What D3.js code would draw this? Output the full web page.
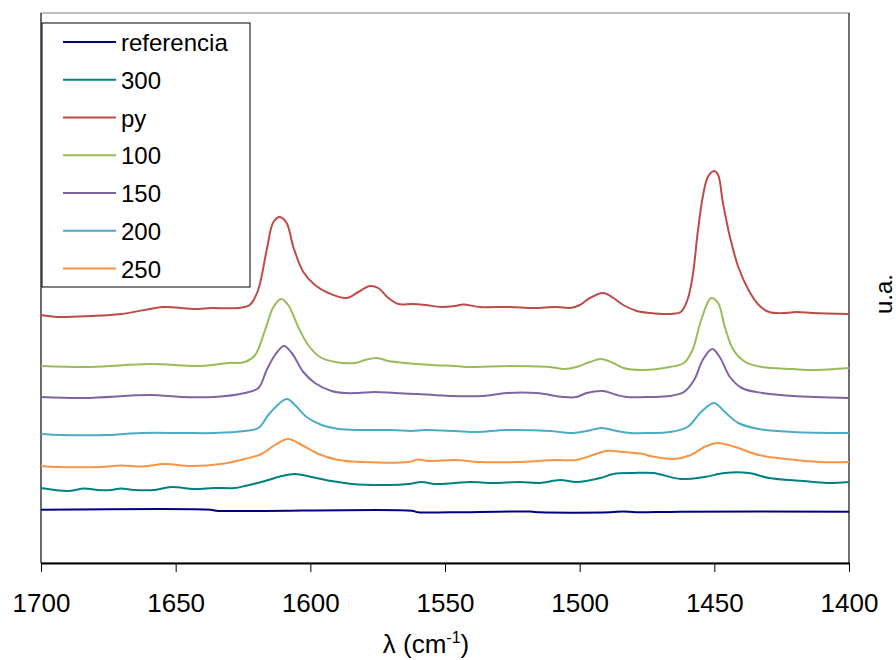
<!DOCTYPE html>
<html>
<head>
<meta charset="utf-8">
<script src="https://cdn.jsdelivr.net/npm/d3@7/dist/d3.min.js"></script>
<style>
  html, body { margin: 0; padding: 0; background: #fff; }
  svg { display: block; font-family: "Liberation Sans", Arial, sans-serif; }
</style>
</head>
<body>
<svg id="chart" width="896" height="660"></svg>
<script>
// IR spectra of adsorbed pyridine, absorbance (arbitrary units) vs wavenumber
const seriesNames = ["referencia", "300", "py", "100", "150", "200", "250"];
const seriesColors = ["#000080", "#008080", "#BE4B48", "#9BBB59", "#8064A2", "#4BACC6", "#F79646"];
const xTicks = [1700, 1650, 1600, 1550, 1500, 1450, 1400];

const refWn  = [1700, 1636.9, 1635.0, 1562.4, 1559.9, 1548.1, 1518.4, 1514.7, 1488.7, 1483.9, 1479.1, 1462.7, 1400];
const refAbs = [0.533, 0.533, 0.523, 0.523, 0.507, 0.507, 0.515, 0.507, 0.507, 0.515, 0.507, 0.513, 0.513];

const s300Wn  = [1700, 1690.1, 1683.9, 1678.9, 1674.0, 1670.3, 1665.4, 1657.9, 1651.7, 1643.1, 1635.7, 1628.2, 1624.3, 1616.8, 1610.6, 1605.7, 1599.5, 1592.1, 1584.6, 1571.0, 1563.6, 1558.6, 1553.7, 1546.3, 1540.7, 1532.1, 1522.2, 1514.7, 1507.3, 1501.1, 1492.4, 1487.5, 1480.1, 1472.7, 1462.5, 1453.7, 1446.1, 1437.3, 1429.7, 1417.1, 1408.2, 1400];
const s300Abs = [0.75, 0.72, 0.745, 0.73, 0.73, 0.745, 0.73, 0.73, 0.76, 0.74, 0.75, 0.75, 0.77, 0.82, 0.87, 0.89, 0.86, 0.82, 0.79, 0.78, 0.79, 0.81, 0.79, 0.80, 0.81, 0.80, 0.81, 0.80, 0.83, 0.81, 0.85, 0.89, 0.90, 0.90, 0.84, 0.86, 0.90, 0.90, 0.85, 0.82, 0.80, 0.81];

const pyWn  = [1700, 1693.8, 1681.4, 1670.3, 1654.3, 1648.0, 1641.7, 1636.9, 1626.9, 1622.5, 1619.5, 1616.2, 1613.7, 1611.3, 1608.8, 1606.3, 1602.6, 1598.3, 1593.3, 1586.5, 1582.2, 1577.8, 1574.8, 1571.0, 1567.3, 1562.4, 1557.4, 1551.2, 1546.3, 1543.2, 1537.0, 1525.9, 1517.2, 1508.5, 1503.6, 1499.9, 1496.2, 1491.2, 1487.5, 1483.8, 1478.8, 1473.9, 1467.6, 1462.5, 1460.0, 1458.1, 1456.2, 1454.3, 1452.4, 1450.1, 1448.6, 1446.8, 1444.2, 1441.1, 1437.3, 1433.5, 1429.7, 1423.4, 1419.7, 1413.4, 1400];
const pyAbs = [2.48, 2.46, 2.47, 2.49, 2.56, 2.55, 2.54, 2.55, 2.55, 2.58, 2.72, 3.13, 3.41, 3.46, 3.40, 3.16, 2.91, 2.78, 2.70, 2.65, 2.71, 2.77, 2.75, 2.65, 2.59, 2.59, 2.58, 2.56, 2.57, 2.585, 2.56, 2.56, 2.55, 2.56, 2.55, 2.58, 2.65, 2.70, 2.65, 2.58, 2.52, 2.50, 2.49, 2.51, 2.63, 2.86, 3.30, 3.66, 3.86, 3.92, 3.88, 3.60, 3.26, 2.96, 2.73, 2.58, 2.51, 2.50, 2.51, 2.50, 2.49];

const s100Wn  = [1700, 1681.4, 1659.5, 1641.0, 1630.6, 1624.3, 1620.5, 1616.8, 1613.7, 1610.9, 1608.2, 1604.5, 1600.8, 1596.4, 1590.8, 1583.4, 1579.7, 1575.4, 1571.0, 1564.9, 1554.9, 1546.3, 1540.7, 1525.9, 1511.0, 1506.1, 1501.1, 1496.2, 1492.2, 1487.5, 1483.8, 1476.4, 1466.5, 1461.3, 1458.1, 1454.9, 1451.2, 1448.6, 1446.1, 1442.9, 1438.5, 1432.2, 1420.8, 1413.4, 1400];
const s100Abs = [1.97, 1.96, 1.99, 1.97, 2.00, 2.01, 2.08, 2.33, 2.56, 2.64, 2.58, 2.36, 2.18, 2.06, 2.01, 2.00, 2.03, 2.05, 2.02, 2.00, 1.98, 1.97, 1.96, 1.97, 1.96, 1.94, 1.96, 2.01, 2.04, 2.00, 1.95, 1.93, 1.96, 2.00, 2.13, 2.43, 2.65, 2.60, 2.36, 2.13, 2.01, 1.96, 1.94, 1.93, 1.95];

const s150Wn  = [1700, 1683.9, 1659.2, 1648.0, 1635.8, 1624.3, 1619.3, 1616.2, 1613.1, 1609.8, 1606.9, 1602.6, 1598.3, 1592.1, 1587.1, 1582.2, 1576.0, 1568.6, 1559.9, 1548.1, 1535.8, 1527.1, 1516.0, 1506.1, 1501.1, 1497.4, 1491.2, 1486.2, 1482.5, 1473.9, 1466.5, 1461.3, 1457.5, 1454.3, 1450.8, 1448.0, 1444.2, 1439.8, 1432.2, 1420.8, 1400];
const s150Abs = [1.66, 1.65, 1.68, 1.66, 1.66, 1.70, 1.75, 1.93, 2.08, 2.17, 2.10, 1.91, 1.80, 1.72, 1.70, 1.70, 1.71, 1.70, 1.69, 1.67, 1.67, 1.70, 1.70, 1.66, 1.66, 1.70, 1.72, 1.68, 1.66, 1.66, 1.67, 1.71, 1.83, 2.03, 2.14, 2.06, 1.86, 1.75, 1.70, 1.67, 1.65];

const s200Wn  = [1700, 1692.6, 1675.1, 1662.9, 1646.9, 1635.8, 1624.3, 1619.3, 1615.0, 1608.8, 1605.7, 1601.4, 1595.8, 1589.6, 1580.9, 1569.8, 1562.4, 1557.4, 1546.3, 1538.2, 1527.1, 1511.0, 1503.6, 1497.4, 1491.8, 1486.2, 1481.3, 1473.9, 1466.5, 1460.0, 1454.9, 1450.1, 1446.1, 1441.1, 1433.5, 1420.8, 1400];
const s200Abs = [1.29, 1.28, 1.28, 1.30, 1.30, 1.30, 1.32, 1.35, 1.50, 1.64, 1.58, 1.46, 1.38, 1.34, 1.33, 1.33, 1.32, 1.33, 1.32, 1.31, 1.33, 1.32, 1.30, 1.32, 1.35, 1.32, 1.30, 1.30, 1.31, 1.36, 1.51, 1.60, 1.51, 1.40, 1.34, 1.31, 1.30];

const s250Wn  = [1700, 1693.8, 1678.0, 1670.3, 1662.0, 1654.2, 1644.3, 1633.2, 1624.3, 1618.1, 1613.1, 1608.2, 1603.2, 1597.0, 1589.6, 1580.9, 1563.6, 1559.9, 1556.2, 1546.3, 1537.0, 1523.4, 1508.5, 1501.1, 1496.2, 1489.9, 1483.8, 1476.4, 1473.9, 1465.0, 1458.7, 1453.7, 1448.6, 1442.3, 1433.5, 1423.4, 1410.7, 1400];
const s250Abs = [0.97, 0.96, 0.96, 0.975, 0.965, 0.99, 0.97, 0.99, 1.04, 1.09, 1.18, 1.24, 1.18, 1.09, 1.03, 1.01, 1.01, 1.035, 1.02, 1.03, 1.01, 1.01, 1.03, 1.03, 1.07, 1.12, 1.11, 1.09, 1.07, 1.04, 1.08, 1.16, 1.20, 1.16, 1.08, 1.04, 1.01, 1.01];

const seriesWn  = [refWn, s300Wn, pyWn, s100Wn, s150Wn, s200Wn, s250Wn];
const seriesAbs = [refAbs, s300Abs, pyAbs, s100Abs, s150Abs, s200Abs, s250Abs];

const series = seriesNames.map((name, i) => ({
  name,
  color: seriesColors[i],
  points: seriesWn[i].map((w, j) => ({ wn: w, v: seriesAbs[i][j] }))
}));

const svg = d3.select("#chart");
const plot = { left: 41, right: 849, top: 13, bottom: 563 };

// wavenumber axis runs from high to low, as usual for IR spectra
const x = d3.scaleLinear().domain([1700, 1400]).range([plot.left, plot.right]);
const y = d3.scaleLinear().domain([0, 5.5]).range([plot.bottom, plot.top]);

// plot area frame
svg.append("rect")
  .attr("x", plot.left).attr("y", plot.top)
  .attr("width", plot.right - plot.left).attr("height", plot.bottom - plot.top)
  .attr("fill", "none").attr("stroke", "#808080").attr("stroke-width", 1);
svg.append("line")
  .attr("x1", plot.left).attr("x2", plot.left)
  .attr("y1", plot.top).attr("y2", plot.bottom)
  .attr("stroke", "#505050").attr("stroke-width", 1.5);
svg.append("line")
  .attr("x1", plot.right).attr("x2", plot.right)
  .attr("y1", plot.top).attr("y2", plot.bottom)
  .attr("stroke", "#202020").attr("stroke-width", 1);

// spectra
const line = d3.line()
  .x(d => x(d.wn))
  .y(d => y(d.v))
  .curve(d3.curveCatmullRom.alpha(0.5));

svg.append("g")
  .selectAll("path")
  .data(series)
  .join("path")
  .attr("d", d => line(d.points))
  .attr("fill", "none")
  .attr("stroke", d => d.color)
  .attr("stroke-width", 2)
  .attr("stroke-linejoin", "round");

// bottom axis
const xAxis = d3.axisBottom(x)
  .tickValues(xTicks)
  .tickFormat(d3.format("d"))
  .tickSize(9)
  .tickSizeOuter(0)
  .tickPadding(22);

const gx = svg.append("g")
  .attr("transform", `translate(0,${plot.bottom})`)
  .call(xAxis);
gx.select(".domain").attr("stroke", "#000").attr("stroke-width", 2);
gx.selectAll(".tick line").attr("stroke", "#000").attr("stroke-width", 1);
gx.selectAll(".tick text")
  .attr("font-family", "\"Liberation Sans\", Arial, sans-serif")
  .attr("font-size", 26)
  .attr("fill", "#000");

// axis titles
const xTitle = svg.append("text")
  .attr("x", 426).attr("y", 653)
  .attr("text-anchor", "middle")
  .attr("font-size", 26)
  .attr("fill", "#000");
xTitle.append("tspan").text("λ (cm");
xTitle.append("tspan").attr("font-size", 16).attr("dy", -10).text("-1");
xTitle.append("tspan").attr("dy", 10).text(")");

svg.append("text")
  .attr("transform", "translate(892,294) rotate(-90)")
  .attr("text-anchor", "middle")
  .attr("font-size", 24)
  .attr("fill", "#000")
  .text("u.a.");

// legend
const legend = svg.append("g");
legend.append("rect")
  .attr("x", 42).attr("y", 23).attr("width", 208).attr("height", 264)
  .attr("fill", "#fff").attr("stroke", "#000").attr("stroke-width", 1);

const rows = legend.selectAll("g.row")
  .data(series)
  .join("g")
  .attr("class", "row")
  .attr("transform", (d, i) => `translate(0,${42 + i * 37.75})`);
rows.append("line")
  .attr("x1", 63).attr("x2", 116)
  .attr("stroke", d => d.color).attr("stroke-width", 2);
rows.append("text")
  .attr("x", 121).attr("y", 9)
  .attr("font-size", 24)
  .attr("fill", "#000")
  .text(d => d.name);
</script>
</body>
</html>
